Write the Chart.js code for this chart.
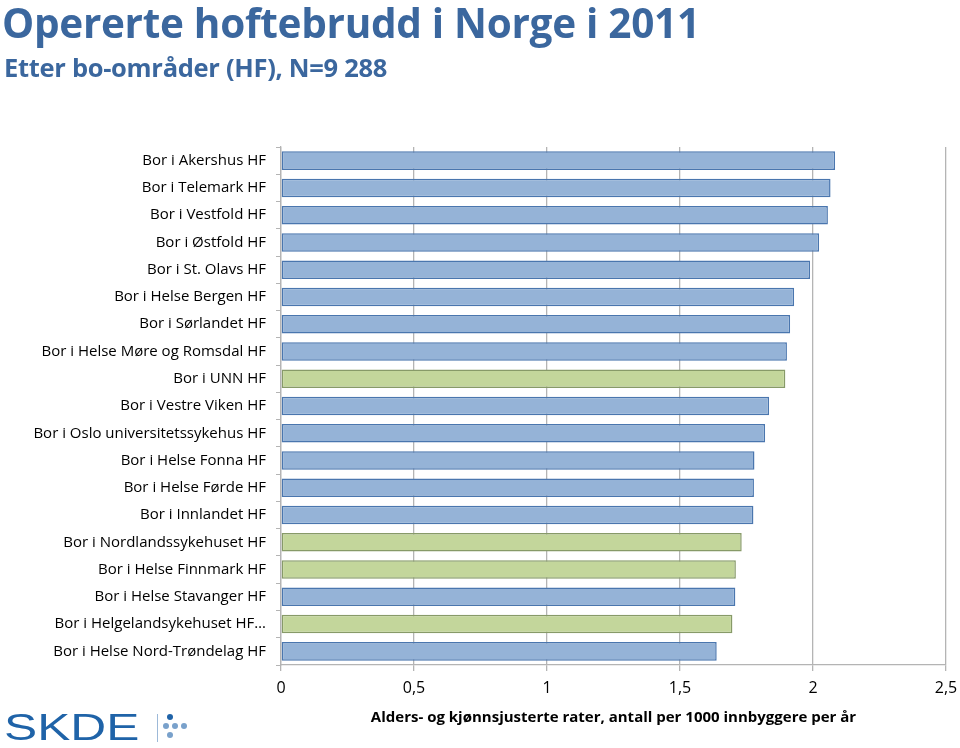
<!DOCTYPE html>
<html>
<head>
<meta charset="utf-8">
<script src="https://cdn.jsdelivr.net/npm/chart.js@4.4.1/dist/chart.umd.min.js"></script>
<style>
  html, body { margin: 0; padding: 0; background: #fff; }
  #wrap { position: relative; width: 960px; height: 748px; overflow: hidden; }
  #grafico { position: absolute; left: 0; top: 0; }
  .tittel { position: absolute; left: 2px; top: -5px; font: bold 40.5px "Open Sans", sans-serif; color: #3b679e; white-space: nowrap; letter-spacing: -0.3px; }
  .under { position: absolute; left: 4px; top: 50px; font: bold 25.5px "Open Sans", sans-serif; color: #3b679e; white-space: nowrap; letter-spacing: -0.3px; }
  .logo { position: absolute; left: 4px; top: 706px; font: 36px "Liberation Sans", Arial, sans-serif; line-height: 44px; color: #1f63a8; transform: scaleX(1.38); transform-origin: left top; }
  .strek { position: absolute; left: 157px; top: 714px; width: 1px; height: 28px; background: #9db9d8; }
  .prikk { position: absolute; width: 6px; height: 6px; border-radius: 50%; background: #1f63a8; }
</style>
</head>
<body>
<div id="wrap">
  <canvas id="grafico" width="960" height="748"></canvas>
  <div class="tittel">Opererte hoftebrudd i Norge i 2011</div>
  <div class="under">Etter bo-områder (HF), N=9 288</div>
  <div class="logo">SKDE</div>
  <div class="strek"></div>
  <div class="prikk" style="left:167px;top:714px;"></div>
  <div class="prikk" style="left:163px;top:723px;opacity:.6"></div>
  <div class="prikk" style="left:172px;top:723px;opacity:.6"></div>
  <div class="prikk" style="left:181px;top:723px;opacity:.6"></div>
  <div class="prikk" style="left:167px;top:732px;opacity:.6"></div>
</div>
<script>
// Bo-områder og rater (per 1000 innbyggere)
const omrader = [
  "Bor i Akershus HF", "Bor i Telemark HF", "Bor i Vestfold HF", "Bor i Østfold HF",
  "Bor i St. Olavs HF", "Bor i Helse Bergen HF", "Bor i Sørlandet HF",
  "Bor i Helse Møre og Romsdal HF", "Bor i UNN HF", "Bor i Vestre Viken HF",
  "Bor i Oslo universitetssykehus HF", "Bor i Helse Fonna HF", "Bor i Helse Førde HF",
  "Bor i Innlandet HF", "Bor i Nordlandssykehuset HF", "Bor i Helse Finnmark HF",
  "Bor i Helse Stavanger HF", "Bor i Helgelandsykehuset HF…", "Bor i Helse Nord-Trøndelag HF"
];
const rater = [
  2.083, 2.066, 2.056, 2.023, 1.989, 1.929, 1.914, 1.902, 1.896, 1.835,
  1.820, 1.780, 1.778, 1.776, 1.732, 1.710, 1.708, 1.697, 1.638
];
// Helse Nord-områdene er markert i grønt
const helseNord = ["Bor i UNN HF", "Bor i Nordlandssykehuset HF", "Bor i Helse Finnmark HF", "Bor i Helgelandsykehuset HF…"];
const xTicks = [0, 0.5, 1, 1.5, 2, 2.5];

const erNord = (o) => helseNord.includes(o);
const fonte = '"Open Sans", sans-serif';

new Chart(document.getElementById('grafico'), {
  type: 'bar',
  data: {
    labels: omrader,
    datasets: [{
      data: rater,
      backgroundColor: omrader.map(o => erNord(o) ? '#c3d69b' : '#95b3d7'),
      borderColor: omrader.map(o => erNord(o) ? '#879a68' : '#4a76ae'),
      borderWidth: 1.5,
      borderSkipped: false,
      categoryPercentage: 1,
      barPercentage: 0.68
    }]
  },
  options: {
    indexAxis: 'y',
    responsive: false,
    animation: false,
    layout: { padding: { top: 147, right: 2, left: 0, bottom: 21 } },
    plugins: { legend: { display: false }, tooltip: { enabled: false } },
    scales: {
      x: {
        min: 0, max: 2.5,
        afterBuildTicks: (s) => { s.ticks = xTicks.map(v => ({ value: v })); },
        afterFit: (s) => { s.height = 62; s.paddingRight = 14; s.paddingLeft = 0; },
        ticks: {
          color: '#000', font: { family: fonte, size: 16 }, padding: 8,
          callback: (v) => String(v).replace('.', ',')
        },
        grid: { color: '#b4b4b4', lineWidth: 1.3, tickLength: 6 },
        border: { color: '#b4b4b4', width: 1.3 },
        title: {
          display: true, text: 'Alders- og kjønnsjusterte rater, antall per 1000 innbyggere per år',
          color: '#000', font: { family: fonte, size: 15, weight: 'bold' }, padding: { top: 2, bottom: 0 }
        }
      },
      y: {
        offset: true,
        afterFit: (s) => { s.width = 281; },
        ticks: { color: '#000', font: { family: fonte, size: 15 }, padding: 10, autoSkip: false },
        grid: { offset: true, drawOnChartArea: false, color: '#b4b4b4', tickLength: 5 },
        border: { color: '#b4b4b4', width: 1.3 }
      }
    }
  }
});
</script>
</body>
</html>
